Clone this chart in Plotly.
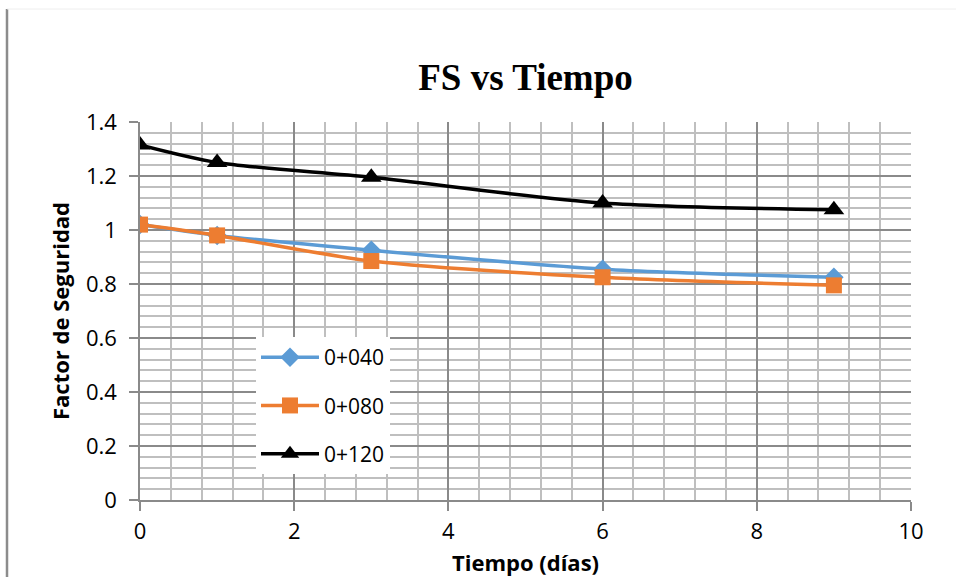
import plotly.graph_objects as go

# Safety factor over time for three stations
dias = [0, 1, 3, 6, 9]
fs_0040 = [1.02, 0.98, 0.925, 0.855, 0.825]
fs_0080 = [1.02, 0.98, 0.885, 0.825, 0.795]
fs_0120 = [1.315, 1.25, 1.195, 1.10, 1.075]

series = [
    ("0+040", fs_0040, "#5B9BD5", "diamond", 15),
    ("0+080", fs_0080, "#ED7D31", "square", 16),
    ("0+120", fs_0120, "#000000", "triangle-up", 18),
]

FONT = "Open Sans, Lato, sans-serif"
MAJOR = "#8a8a8a"
MINOR = "#bfbfbf"

fig = go.Figure()
for i, (name, ys, color, symbol, size) in enumerate(series):
    fig.add_trace(go.Scatter(
        x=dias, y=ys, name=name, mode="lines+markers",
        legendgroup=f"g{i}",
        line=dict(color=color, width=3.5, shape="spline", smoothing=0.8),
        marker=dict(symbol=symbol, size=size, color=color),
    ))

W, H = 956, 577
L, R, T, B = 140, 45, 122, 77
pw, ph = W - L - R, H - T - B

def px_x(p):
    return (p - L) / pw

def px_y(p):
    return (H - B - p) / ph

fig.update_layout(
    width=W, height=H,
    margin=dict(l=L, r=R, t=T, b=B, autoexpand=False),
    paper_bgcolor="white", plot_bgcolor="white",
    font=dict(family=FONT, size=21, color="#000000"),
    title=dict(
        text="<b>FS vs Tiempo</b>",
        font=dict(family="Liberation Serif, Times New Roman, serif", size=37, color="#000000"),
        x=0.5, xanchor="center", xref="paper",
        y=1 - 77 / H, yanchor="middle", yref="container",
    ),
    showlegend=True,
    legend=dict(
        x=px_x(256), y=px_y(337), xanchor="left", yanchor="top",
        bgcolor="white", borderwidth=0,
        font=dict(family=FONT, size=21, color="#000000"),
        tracegroupgap=18, itemwidth=58,
    ),
    xaxis=dict(
        range=[0, 10], dtick=2, tick0=0, automargin=False,
        showgrid=True, gridcolor=MAJOR, gridwidth=1.5,
        minor=dict(dtick=0.4, tick0=0, showgrid=True, gridcolor=MINOR, gridwidth=1.5),
        showline=True, linecolor=MAJOR, linewidth=1.5, mirror=False,
        ticks="outside", ticklen=9, tickcolor=MAJOR, tickwidth=1.5,
        zeroline=False, ticklabelstandoff=2,
        title=dict(text="<b>Tiempo (días)</b>", font=dict(family=FONT, size=22), standoff=12),
        tickfont=dict(family=FONT, size=22),
    ),
    yaxis=dict(
        range=[0, 1.4], dtick=0.2, tick0=0, automargin=False,
        showgrid=True, gridcolor=MAJOR, gridwidth=1.5,
        minor=dict(dtick=0.04, tick0=0, showgrid=True, gridcolor=MINOR, gridwidth=1.5),
        showline=True, linecolor=MAJOR, linewidth=1.5,
        ticks="outside", ticklen=9, tickcolor=MAJOR, tickwidth=1.5,
        zeroline=False, ticklabelstandoff=8,
        title=dict(text="<b>Factor de Seguridad</b>", font=dict(family=FONT, size=22), standoff=10),
        tickfont=dict(family=FONT, size=22),
        tickformat="~g",
    ),
    shapes=[
        # chart frame edges
        dict(type="line", xref="paper", yref="paper",
             x0=px_x(7), x1=px_x(7), y0=px_y(9), y1=px_y(H + 5),
             line=dict(color="#8c8c8c", width=2.5), layer="above"),
        dict(type="line", xref="paper", yref="paper",
             x0=px_x(7), x1=px_x(W + 5), y0=px_y(9), y1=px_y(9),
             line=dict(color="#eeeeee", width=1), layer="above"),
    ],
)

fig.write_html("out.html")
